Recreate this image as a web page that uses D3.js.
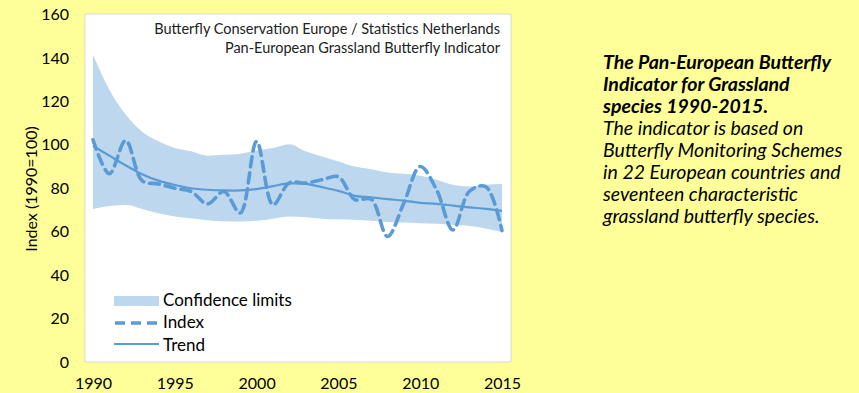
<!DOCTYPE html>
<html>
<head>
<meta charset="utf-8">
<script src="https://cdn.jsdelivr.net/npm/d3@7"></script>
<style>
	body { margin: 0; background: #FFFF99; }
	svg { display: block; font-family: Lato, "Open Sans", sans-serif; }
</style>
</head>
<body>
<div id="chart"></div>
<script>
var years = [1990,1991,1992,1993,1994,1995,1996,1997,1998,1999,2000,2001,2002,
	2003,2004,2005,2006,2007,2008,2009,2010,2011,2012,2013,2014,2015];
var indexValues = [102.3,86.7,102,83.5,82,80,78.5,72.8,78.5,68.6,101.6,72.4,82.5,
	82.4,83.9,85.3,74.8,75,57.8,73.2,90,79.3,60.8,78.5,80.8,60.5];
var trendValues = [99.5,95,90.5,86.5,83.5,81.5,80,79.3,79,79,79.6,81,82.2,
	82,80.5,78.8,76.5,75.8,75,74.3,73.3,72.8,72,71.2,70.5,69.6];
var upperValues = [141.5,125.4,113.9,106,101.6,98.5,97,95,95.4,95.9,97.4,98.5,100.3,
	97,94.6,92.3,90,88.8,87.3,86.7,85.8,83.9,81.6,80.8,81.6,82];
var lowerValues = [70.4,71.8,72.4,70.5,68.5,67,66.2,65.3,64.8,64.7,65,66,67,
	66.6,66,65.7,65.5,65,64.5,64.2,63.9,63.6,63.2,62.7,61.5,59.8];
var yTicks = [0,20,40,60,80,100,120,140,160];
var xTicks = [1990,1995,2000,2005,2010,2015];
var legendLabels = ["Confidence limits", "Index", "Trend"];
var sourceLines = ["Butterfly Conservation Europe / Statistics Netherlands",
	"Pan-European Grassland Butterfly Indicator"];
var noteBold = ["The Pan-European Butterfly", "Indicator for Grassland", "species 1990-2015."];
var noteText = ["The indicator is based on", "Butterfly Monitoring Schemes",
	"in 22 European countries and", "seventeen characteristic", "grassland butterfly species."];

var width = 859, height = 393;
var plot = {left: 85, top: 14, right: 511, bottom: 362};
var lineBlue = "#5B9BD5", bandBlue = "#BDD7EE";

var data = years.map(function(y, i) {
	return {year: y, index: indexValues[i], trend: trendValues[i], lo: lowerValues[i], hi: upperValues[i]};
});

var svg = d3.select("#chart").append("svg")
	.attr("width", width)
	.attr("height", height);

var xScale = d3.scaleLinear().domain([1990, 2015]).range([93, 502]);
var yScale = d3.scaleLinear().domain([0, 160]).range([plot.bottom, plot.top + 0.5]);

// plot area
svg.append("rect")
	.attr("x", plot.left)
	.attr("y", plot.top)
	.attr("width", plot.right - plot.left)
	.attr("height", plot.bottom - plot.top)
	.attr("fill", "#fff")
	.attr("stroke", "#D9D9D9")
	.attr("stroke-width", 1);

// axes (labels only)
var yAxis = svg.append("g")
	.attr("transform", "translate(" + (plot.left - 6) + ",0)")
	.call(d3.axisLeft(yScale).tickValues(yTicks).tickSize(0).tickPadding(10));
var xAxis = svg.append("g")
	.attr("transform", "translate(0," + (plot.bottom + 14) + ")")
	.call(d3.axisBottom(xScale).tickValues(xTicks).tickFormat(d3.format("d")).tickSize(0).tickPadding(2));
[yAxis, xAxis].forEach(function(ax) {
	ax.select(".domain").remove();
	ax.selectAll("text")
		.attr("fill", "#000")
		.style("font-family", "Lato, sans-serif")
		.style("font-size", "16px");
});

svg.append("text")
	.attr("transform", "translate(37,189) rotate(-90)")
	.attr("text-anchor", "middle")
	.style("font-size", "16px")
	.attr("fill", "#000")
	.text("Index (1990=100)");

// confidence band
var area = d3.area()
	.x(function(d) { return xScale(d.year); })
	.y0(function(d) { return yScale(d.lo); })
	.y1(function(d) { return yScale(d.hi); })
	.curve(d3.curveMonotoneX);
svg.append("path")
	.datum(data)
	.attr("fill", bandBlue)
	.attr("d", area);

var trendLine = d3.line()
	.x(function(d) { return xScale(d.year); })
	.y(function(d) { return yScale(d.trend); })
	.curve(d3.curveCatmullRom);
svg.append("path")
	.datum(data)
	.attr("fill", "none")
	.attr("stroke", lineBlue)
	.attr("stroke-width", 2.2)
	.attr("d", trendLine);

var indexLine = d3.line()
	.x(function(d) { return xScale(d.year); })
	.y(function(d) { return yScale(d.index); })
	.curve(d3.curveCatmullRom);
svg.append("path")
	.datum(data)
	.attr("fill", "none")
	.attr("stroke", lineBlue)
	.attr("stroke-width", 3.6)
	.attr("stroke-dasharray", "10,6")
	.attr("stroke-linecap", "round")
	.attr("d", indexLine);

// source text
svg.selectAll(".source")
	.data(sourceLines)
	.enter().append("text")
	.attr("class", "source")
	.attr("x", 500)
	.attr("y", function(d, i) { return 34 + i * 18.5; })
	.attr("text-anchor", "end")
	.style("font-size", "14.5px")
	.attr("fill", "#222")
	.text(function(d) { return d; });

// legend
var legend = svg.append("g").attr("transform", "translate(114,0)");
legend.append("rect")
	.attr("x", 0).attr("y", 296).attr("width", 45).attr("height", 10)
	.attr("fill", bandBlue);
legend.append("line")
	.attr("x1", 1).attr("x2", 45).attr("y1", 323).attr("y2", 323)
	.attr("stroke", lineBlue).attr("stroke-width", 3.6)
	.attr("stroke-dasharray", "10,6");
legend.append("line")
	.attr("x1", 0).attr("x2", 45).attr("y1", 344).attr("y2", 344)
	.attr("stroke", lineBlue).attr("stroke-width", 2);
legend.selectAll("text")
	.data(legendLabels)
	.enter().append("text")
	.attr("x", 49)
	.attr("y", function(d, i) { return 300 + i * 22.5; })
	.attr("dy", "0.35em")
	.style("font-size", "17px")
	.attr("fill", "#000")
	.text(function(d) { return d; });

// side note
var note = svg.append("g")
	.attr("transform", "translate(603,0)")
	.style("font-family", "Lato, sans-serif")
	.style("font-size", "19.5px")
	.style("font-style", "italic");
note.selectAll(".bold")
	.data(noteBold)
	.enter().append("text")
	.attr("class", "bold")
	.attr("y", function(d, i) { return 69 + i * 22; })
	.style("font-weight", "bold")
	.attr("fill", "#000")
	.text(function(d) { return d; });
note.selectAll(".plain")
	.data(noteText)
	.enter().append("text")
	.attr("class", "plain")
	.attr("y", function(d, i) { return 69 + (i + 3) * 22; })
	.attr("fill", "#000")
	.text(function(d) { return d; });
</script>
</body>
</html>
